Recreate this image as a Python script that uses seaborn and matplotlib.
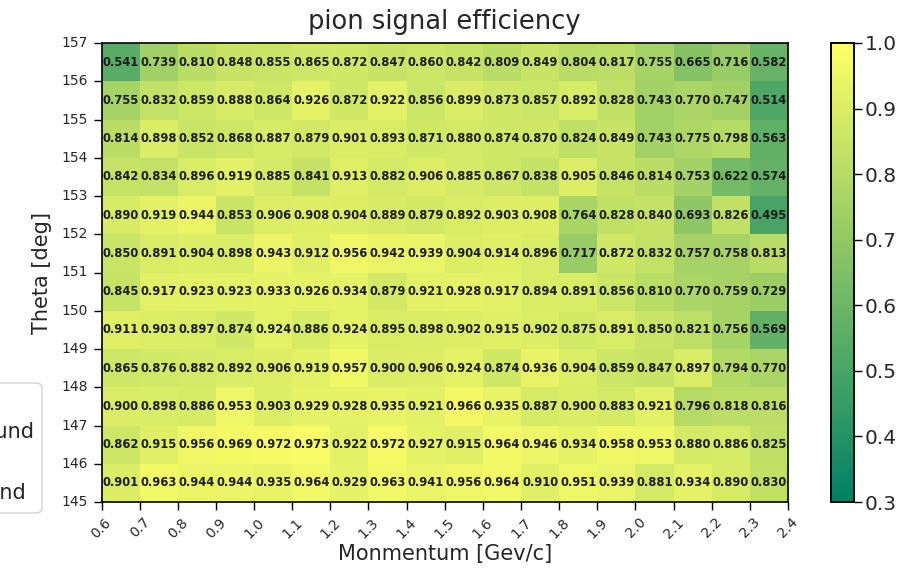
import numpy as np
import pandas as pd
import matplotlib
matplotlib.use("Agg")
import matplotlib.pyplot as plt
from matplotlib.patches import FancyBboxPatch
import seaborn as sns

# Momentum bin edges [GeV/c] and theta bin edges [deg]
momentum_edges = ["0.6", "0.7", "0.8", "0.9", "1.0", "1.1", "1.2", "1.3", "1.4", "1.5",
                  "1.6", "1.7", "1.8", "1.9", "2.0", "2.1", "2.2", "2.3", "2.4"]
theta_edges = ["157", "156", "155", "154", "153", "152", "151", "150", "149",
               "148", "147", "146", "145"]

# Efficiency per theta bin (rows from 156-157 down to 145-146)
eff_156 = [0.541, 0.739, 0.810, 0.848, 0.855, 0.865, 0.872, 0.847, 0.860, 0.842, 0.809, 0.849, 0.804, 0.817, 0.755, 0.665, 0.716, 0.582]
eff_155 = [0.755, 0.832, 0.859, 0.888, 0.864, 0.926, 0.872, 0.922, 0.856, 0.899, 0.873, 0.857, 0.892, 0.828, 0.743, 0.770, 0.747, 0.514]
eff_154 = [0.814, 0.898, 0.852, 0.868, 0.887, 0.879, 0.901, 0.893, 0.871, 0.880, 0.874, 0.870, 0.824, 0.849, 0.743, 0.775, 0.798, 0.563]
eff_153 = [0.842, 0.834, 0.896, 0.919, 0.885, 0.841, 0.913, 0.882, 0.906, 0.885, 0.867, 0.838, 0.905, 0.846, 0.814, 0.753, 0.622, 0.574]
eff_152 = [0.890, 0.919, 0.944, 0.853, 0.906, 0.908, 0.904, 0.889, 0.879, 0.892, 0.903, 0.908, 0.764, 0.828, 0.840, 0.693, 0.826, 0.495]
eff_151 = [0.850, 0.891, 0.904, 0.898, 0.943, 0.912, 0.956, 0.942, 0.939, 0.904, 0.914, 0.896, 0.717, 0.872, 0.832, 0.757, 0.758, 0.813]
eff_150 = [0.845, 0.917, 0.923, 0.923, 0.933, 0.926, 0.934, 0.879, 0.921, 0.928, 0.917, 0.894, 0.891, 0.856, 0.810, 0.770, 0.759, 0.729]
eff_149 = [0.911, 0.903, 0.897, 0.874, 0.924, 0.886, 0.924, 0.895, 0.898, 0.902, 0.915, 0.902, 0.875, 0.891, 0.850, 0.821, 0.756, 0.569]
eff_148 = [0.865, 0.876, 0.882, 0.892, 0.906, 0.919, 0.957, 0.900, 0.906, 0.924, 0.874, 0.936, 0.904, 0.859, 0.847, 0.897, 0.794, 0.770]
eff_147 = [0.900, 0.898, 0.886, 0.953, 0.903, 0.929, 0.928, 0.935, 0.921, 0.966, 0.935, 0.887, 0.900, 0.883, 0.921, 0.796, 0.818, 0.816]
eff_146 = [0.862, 0.915, 0.956, 0.969, 0.972, 0.973, 0.922, 0.972, 0.927, 0.915, 0.964, 0.946, 0.934, 0.958, 0.953, 0.880, 0.886, 0.825]
eff_145 = [0.901, 0.963, 0.944, 0.944, 0.935, 0.964, 0.929, 0.963, 0.941, 0.956, 0.964, 0.910, 0.951, 0.939, 0.881, 0.934, 0.890, 0.830]

cbar_ticks = [0.3, 0.4, 0.5, 0.6, 0.7, 0.8, 0.9, 1.0]
legend_labels = ["muon background", "pion background"]

sns.set_style("ticks")
plt.rcParams["font.family"] = ["DejaVu Sans"]

eff = pd.DataFrame(
    [eff_156, eff_155, eff_154, eff_153, eff_152, eff_151,
     eff_150, eff_149, eff_148, eff_147, eff_146, eff_145],
)

W, H = 902, 568
fig = plt.figure(figsize=(W / 100, H / 100), dpi=100)
ax = fig.add_axes([101.5 / W, 1 - 502 / H, (788 - 101.5) / W, (502 - 43) / H])
cax = fig.add_axes([831 / W, 1 - 502 / H, 23 / W, (502 - 43) / H])

sns.heatmap(
    eff, ax=ax, cbar_ax=cax, cmap="summer", vmin=0.3, vmax=1.0,
    annot=True, fmt=".3f",
    annot_kws=dict(size=8.3, weight="bold", color="#1c1c1c"),
    linewidths=0,
)

# ticks sit on the bin edges
ax.set_xticks(np.arange(len(momentum_edges)))
ax.set_xticklabels(momentum_edges, rotation=45, ha="center", fontsize=10)
ax.set_yticks(np.arange(len(theta_edges)))
ax.set_yticklabels(theta_edges, rotation=0, fontsize=10)
ax.tick_params(axis="both", length=6, width=1, color="black", direction="out")
for s in ax.spines.values():
    s.set_visible(True)
    s.set_color("black")
    s.set_linewidth(1.2)

ax.set_xlabel("Monmentum [Gev/c]", fontsize=15, labelpad=2)
ax.set_ylabel("Theta [deg]", fontsize=15, labelpad=7)
ax.set_title("pion signal efficiency", fontsize=18.5, pad=10)

cax.set_yticks(cbar_ticks)
cax.set_yticklabels([f"{t:.1f}" for t in cbar_ticks], fontsize=14.5)
cax.tick_params(length=6, width=1, color="black", pad=2)
for s in cax.spines.values():
    s.set_visible(True)
    s.set_color("black")
    s.set_linewidth(1.2)

# legend frame on the left edge
box = FancyBboxPatch(
    (-260 / W, 1 - 513 / H), (260 + 42) / W, 130 / H,
    boxstyle="round,pad=0,rounding_size=0.008",
    transform=fig.transFigure, facecolor="white", edgecolor="0.8",
    linewidth=1.0, alpha=0.9, zorder=5,
)
fig.add_artist(box)
fig.text(34 / W, 1 - 432 / H, legend_labels[0], ha="right", va="center",
         fontsize=15, zorder=6)
fig.text(26 / W, 1 - 493 / H, legend_labels[1], ha="right", va="center",
         fontsize=15, zorder=6)

fig.savefig("out.png", dpi=100)
